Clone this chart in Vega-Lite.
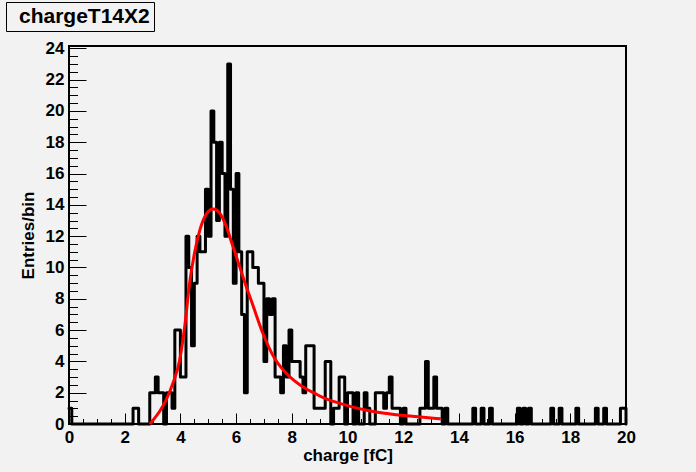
{
  "$schema": "https://vega.github.io/schema/vega-lite/v6.json",
  "width": 557,
  "height": 378,
  "autosize": "none",
  "padding": {"left": 69, "top": 46, "right": 70, "bottom": 48},
  "background": "#f2f2f2",
  "config": {
    "font": "Liberation Sans",
    "view": {"stroke": "black", "strokeWidth": 2},
    "axis": {
      "grid": false,
      "domain": false,
      "tickColor": "black",
      "tickWidth": 1,
      "labelColor": "black",
      "titleColor": "black",
      "labelFont": "Liberation Sans",
      "labelFontWeight": "bold",
      "labelFontSize": 17,
      "titleFont": "Liberation Sans",
      "titleFontWeight": "bold",
      "titleFontSize": 17,
      "labelFlush": false,
      "labelOverlap": false
    }
  },
  "datasets": {
    "hist": [
      {"x": 0.0, "n": 1}, {"x": 0.1, "n": 0}, {"x": 0.2, "n": 0}, {"x": 0.3, "n": 0}, {"x": 0.4, "n": 0},
      {"x": 0.5, "n": 0}, {"x": 0.6, "n": 0}, {"x": 0.7, "n": 0}, {"x": 0.8, "n": 0}, {"x": 0.9, "n": 0},
      {"x": 1.0, "n": 0}, {"x": 1.1, "n": 0}, {"x": 1.2, "n": 0}, {"x": 1.3, "n": 0}, {"x": 1.4, "n": 0},
      {"x": 1.5, "n": 0}, {"x": 1.6, "n": 0}, {"x": 1.7, "n": 0}, {"x": 1.8, "n": 0}, {"x": 1.9, "n": 0},
      {"x": 2.0, "n": 0}, {"x": 2.1, "n": 0}, {"x": 2.2, "n": 0}, {"x": 2.3, "n": 1}, {"x": 2.4, "n": 1},
      {"x": 2.5, "n": 0}, {"x": 2.6, "n": 0}, {"x": 2.7, "n": 0}, {"x": 2.8, "n": 0}, {"x": 2.9, "n": 2},
      {"x": 3.0, "n": 2}, {"x": 3.1, "n": 3}, {"x": 3.2, "n": 2}, {"x": 3.3, "n": 2}, {"x": 3.4, "n": 0},
      {"x": 3.5, "n": 2}, {"x": 3.6, "n": 2}, {"x": 3.7, "n": 1}, {"x": 3.8, "n": 6}, {"x": 3.9, "n": 6},
      {"x": 4.0, "n": 3}, {"x": 4.1, "n": 3}, {"x": 4.2, "n": 12}, {"x": 4.3, "n": 10}, {"x": 4.4, "n": 5},
      {"x": 4.5, "n": 9}, {"x": 4.6, "n": 12}, {"x": 4.7, "n": 11}, {"x": 4.8, "n": 11}, {"x": 4.9, "n": 15},
      {"x": 5.0, "n": 12}, {"x": 5.1, "n": 20}, {"x": 5.2, "n": 18}, {"x": 5.3, "n": 13}, {"x": 5.4, "n": 18},
      {"x": 5.5, "n": 16}, {"x": 5.6, "n": 12}, {"x": 5.7, "n": 23}, {"x": 5.8, "n": 15}, {"x": 5.9, "n": 9},
      {"x": 6.0, "n": 16}, {"x": 6.1, "n": 11}, {"x": 6.2, "n": 7}, {"x": 6.3, "n": 2}, {"x": 6.4, "n": 11},
      {"x": 6.5, "n": 11}, {"x": 6.6, "n": 10}, {"x": 6.7, "n": 10}, {"x": 6.8, "n": 9}, {"x": 6.9, "n": 9},
      {"x": 7.0, "n": 4}, {"x": 7.1, "n": 8}, {"x": 7.2, "n": 7}, {"x": 7.3, "n": 8}, {"x": 7.4, "n": 3},
      {"x": 7.5, "n": 3}, {"x": 7.6, "n": 2}, {"x": 7.7, "n": 5}, {"x": 7.8, "n": 3}, {"x": 7.9, "n": 6},
      {"x": 8.0, "n": 4}, {"x": 8.1, "n": 4}, {"x": 8.2, "n": 4}, {"x": 8.3, "n": 3}, {"x": 8.4, "n": 2},
      {"x": 8.5, "n": 5}, {"x": 8.6, "n": 5}, {"x": 8.7, "n": 5}, {"x": 8.8, "n": 1}, {"x": 8.9, "n": 1},
      {"x": 9.0, "n": 1}, {"x": 9.1, "n": 1}, {"x": 9.2, "n": 4}, {"x": 9.3, "n": 4}, {"x": 9.4, "n": 0},
      {"x": 9.5, "n": 1}, {"x": 9.6, "n": 1}, {"x": 9.7, "n": 3}, {"x": 9.8, "n": 3}, {"x": 9.9, "n": 0},
      {"x": 10.0, "n": 2}, {"x": 10.1, "n": 2}, {"x": 10.2, "n": 0}, {"x": 10.3, "n": 2}, {"x": 10.4, "n": 0},
      {"x": 10.5, "n": 0}, {"x": 10.6, "n": 2}, {"x": 10.7, "n": 1}, {"x": 10.8, "n": 0}, {"x": 10.9, "n": 0},
      {"x": 11.0, "n": 2}, {"x": 11.1, "n": 2}, {"x": 11.2, "n": 2}, {"x": 11.3, "n": 1}, {"x": 11.4, "n": 2},
      {"x": 11.5, "n": 3}, {"x": 11.6, "n": 1}, {"x": 11.7, "n": 1}, {"x": 11.8, "n": 1}, {"x": 11.9, "n": 0},
      {"x": 12.0, "n": 1}, {"x": 12.1, "n": 0}, {"x": 12.2, "n": 0}, {"x": 12.3, "n": 0}, {"x": 12.4, "n": 0},
      {"x": 12.5, "n": 0}, {"x": 12.6, "n": 1}, {"x": 12.7, "n": 1}, {"x": 12.8, "n": 4}, {"x": 12.9, "n": 1},
      {"x": 13.0, "n": 1}, {"x": 13.1, "n": 3}, {"x": 13.2, "n": 1}, {"x": 13.3, "n": 1}, {"x": 13.4, "n": 0},
      {"x": 13.5, "n": 1}, {"x": 13.6, "n": 0}, {"x": 13.7, "n": 0}, {"x": 13.8, "n": 0}, {"x": 13.9, "n": 0},
      {"x": 14.0, "n": 0}, {"x": 14.1, "n": 0}, {"x": 14.2, "n": 0}, {"x": 14.3, "n": 0}, {"x": 14.4, "n": 0},
      {"x": 14.5, "n": 1}, {"x": 14.6, "n": 0}, {"x": 14.7, "n": 0}, {"x": 14.8, "n": 1}, {"x": 14.9, "n": 0},
      {"x": 15.0, "n": 0}, {"x": 15.1, "n": 1}, {"x": 15.2, "n": 0}, {"x": 15.3, "n": 0}, {"x": 15.4, "n": 0},
      {"x": 15.5, "n": 0}, {"x": 15.6, "n": 0}, {"x": 15.7, "n": 0}, {"x": 15.8, "n": 0}, {"x": 15.9, "n": 0},
      {"x": 16.0, "n": 0}, {"x": 16.1, "n": 1}, {"x": 16.2, "n": 0}, {"x": 16.3, "n": 1}, {"x": 16.4, "n": 0},
      {"x": 16.5, "n": 1}, {"x": 16.6, "n": 0}, {"x": 16.7, "n": 0}, {"x": 16.8, "n": 0}, {"x": 16.9, "n": 0},
      {"x": 17.0, "n": 0}, {"x": 17.1, "n": 0}, {"x": 17.2, "n": 0}, {"x": 17.3, "n": 1}, {"x": 17.4, "n": 0},
      {"x": 17.5, "n": 0}, {"x": 17.6, "n": 1}, {"x": 17.7, "n": 0}, {"x": 17.8, "n": 0}, {"x": 17.9, "n": 0},
      {"x": 18.0, "n": 0}, {"x": 18.1, "n": 0}, {"x": 18.2, "n": 1}, {"x": 18.3, "n": 0}, {"x": 18.4, "n": 0},
      {"x": 18.5, "n": 0}, {"x": 18.6, "n": 0}, {"x": 18.7, "n": 0}, {"x": 18.8, "n": 0}, {"x": 18.9, "n": 1},
      {"x": 19.0, "n": 0}, {"x": 19.1, "n": 0}, {"x": 19.2, "n": 1}, {"x": 19.3, "n": 0}, {"x": 19.4, "n": 0},
      {"x": 19.5, "n": 0}, {"x": 19.6, "n": 0}, {"x": 19.7, "n": 0}, {"x": 19.8, "n": 1}, {"x": 19.9, "n": 1},
      {"x": 20.0, "n": 0}
    ],
    "fit": [
      {"x": 2.9, "v": 0.0}, {"x": 3.07, "v": 0.36}, {"x": 3.25, "v": 0.8}, {"x": 3.49, "v": 1.54},
      {"x": 3.73, "v": 2.6}, {"x": 3.97, "v": 4.05}, {"x": 4.16, "v": 6.3}, {"x": 4.33, "v": 9.0},
      {"x": 4.51, "v": 10.95}, {"x": 4.69, "v": 12.34}, {"x": 4.93, "v": 13.41}, {"x": 5.17, "v": 13.73},
      {"x": 5.4, "v": 13.5}, {"x": 5.64, "v": 12.66}, {"x": 5.88, "v": 11.38}, {"x": 6.12, "v": 10.1},
      {"x": 6.36, "v": 8.8}, {"x": 6.6, "v": 7.6}, {"x": 6.96, "v": 5.8}, {"x": 7.38, "v": 4.2},
      {"x": 7.74, "v": 3.36}, {"x": 8.1, "v": 2.75}, {"x": 8.46, "v": 2.3}, {"x": 8.81, "v": 1.97},
      {"x": 9.17, "v": 1.65}, {"x": 9.53, "v": 1.43}, {"x": 10.13, "v": 1.11}, {"x": 10.73, "v": 0.86},
      {"x": 11.33, "v": 0.68}, {"x": 11.93, "v": 0.56}, {"x": 12.53, "v": 0.46}, {"x": 13.35, "v": 0.33}
    ]
  },
  "resolve": {"axis": {"x": "independent", "y": "independent"}},
  "layer": [
    {
      "data": {"name": "hist"},
      "mark": {"type": "line", "interpolate": "step-after", "strokeWidth": 3, "strokeJoin": "round", "strokeCap": "round"},
      "encoding": {
        "x": {
          "field": "x",
          "type": "quantitative",
          "scale": {"domain": [0, 20], "nice": false, "zero": false},
          "axis": {
            "orient": "bottom",
            "values": [0, 2, 4, 6, 8, 10, 12, 14, 16, 18, 20],
            "tickSize": -11,
            "labelPadding": 16,
            "title": "charge [fC]",
            "titlePadding": 2
          }
        },
        "y": {
          "field": "n",
          "type": "quantitative",
          "scale": {"domain": [0, 24.15], "nice": false},
          "axis": {
            "orient": "left",
            "values": [0, 2, 4, 6, 8, 10, 12, 14, 16, 18, 20, 22, 24],
            "tickSize": -17,
            "labelPadding": 22,
            "title": "Entries/bin",
            "titlePadding": 8
          }
        },
        "color": {
          "datum": "chargeT14X2",
          "scale": {"range": ["black"]},
          "legend": {
            "title": null,
            "orient": "none",
            "legendX": -63,
            "legendY": -44,
            "strokeColor": "black",
            "fillColor": "#f2f2f2",
            "padding": 4,
            "symbolType": "circle",
            "symbolSize": 0,
            "symbolOpacity": 0,
            "symbolStrokeWidth": 0,
            "labelOffset": -12,
            "labelFont": "Liberation Sans",
            "labelFontWeight": "bold",
            "labelFontSize": 21,
            "labelColor": "black"
          }
        }
      }
    },
    {
      "data": {"name": "fit"},
      "mark": {"type": "line", "color": "#ff0000", "strokeWidth": 3, "interpolate": "monotone"},
      "encoding": {
        "x": {
          "field": "x",
          "type": "quantitative",
          "axis": {
            "orient": "bottom",
            "values": [0, 0.5, 1, 1.5, 2, 2.5, 3, 3.5, 4, 4.5, 5, 5.5, 6, 6.5, 7, 7.5, 8, 8.5, 9, 9.5, 10, 10.5, 11, 11.5, 12, 12.5, 13, 13.5, 14, 14.5, 15, 15.5, 16, 16.5, 17, 17.5, 18, 18.5, 19, 19.5, 20],
            "tickSize": -5.5,
            "labels": false,
            "title": null
          }
        },
        "y": {
          "field": "v",
          "type": "quantitative",
          "axis": {
            "orient": "left",
            "values": [0, 0.5, 1, 1.5, 2, 2.5, 3, 3.5, 4, 4.5, 5, 5.5, 6, 6.5, 7, 7.5, 8, 8.5, 9, 9.5, 10, 10.5, 11, 11.5, 12, 12.5, 13, 13.5, 14, 14.5, 15, 15.5, 16, 16.5, 17, 17.5, 18, 18.5, 19, 19.5, 20, 20.5, 21, 21.5, 22, 22.5, 23, 23.5, 24],
            "tickSize": -8.5,
            "labels": false,
            "title": null
          }
        }
      }
    }
  ]
}
